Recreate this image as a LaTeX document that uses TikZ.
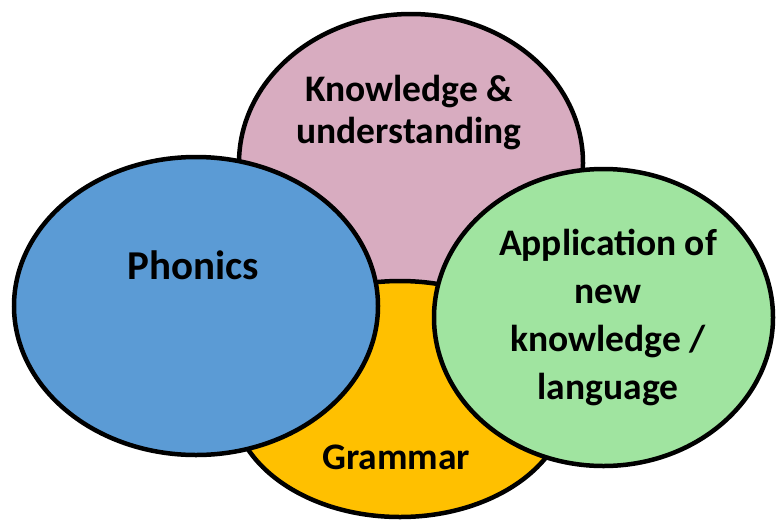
\documentclass[tikz,border=0pt]{standalone}
\usepackage{fontspec}
\setmainfont{Carlito}
\usetikzlibrary{shapes.geometric}
\definecolor{pinkfill}{RGB}{216,172,192}
\definecolor{bluefill}{RGB}{91,155,213}
\definecolor{orangefill}{RGB}{255,192,0}
\definecolor{greenfill}{RGB}{160,228,160}
\tikzset{
  blob/.style={draw=black, line width=4.5pt},
  lbl/.style={font=\bfseries, text=black, align=center, inner sep=0pt},
}
\begin{document}
\begin{tikzpicture}[x=1pt,y=-1pt]
\useasboundingbox (0,0) rectangle (776,520);
% ellipses
\path[blob, fill=pinkfill] (411,163) ellipse [x radius=172pt, y radius=149pt];
\path[blob, fill=orangefill] (400,399) ellipse [x radius=168pt, y radius=118pt];
\path[blob, fill=bluefill] (196,306) ellipse [x radius=182pt, y radius=149pt];
\path[blob, fill=greenfill] (603.5,317.5) ellipse [x radius=169.5pt, y radius=148.5pt];
% labels
\node[lbl, font=\bfseries\fontsize{37.5}{42}\selectfont] (know) at (409,113) {Knowledge \&\\understanding};
\node[lbl, font=\bfseries\fontsize{41}{46}\selectfont] (phon) at (193,265) {Phonics};
\node[lbl, font=\bfseries\fontsize{37.5}{48}\selectfont] (appl) at (608,317) {Application of\\new\\knowledge /\\language};
\node[lbl, font=\bfseries\fontsize{37.5}{40}\selectfont] (gram) at (396,457) {Grammar};
\end{tikzpicture}
\end{document}
